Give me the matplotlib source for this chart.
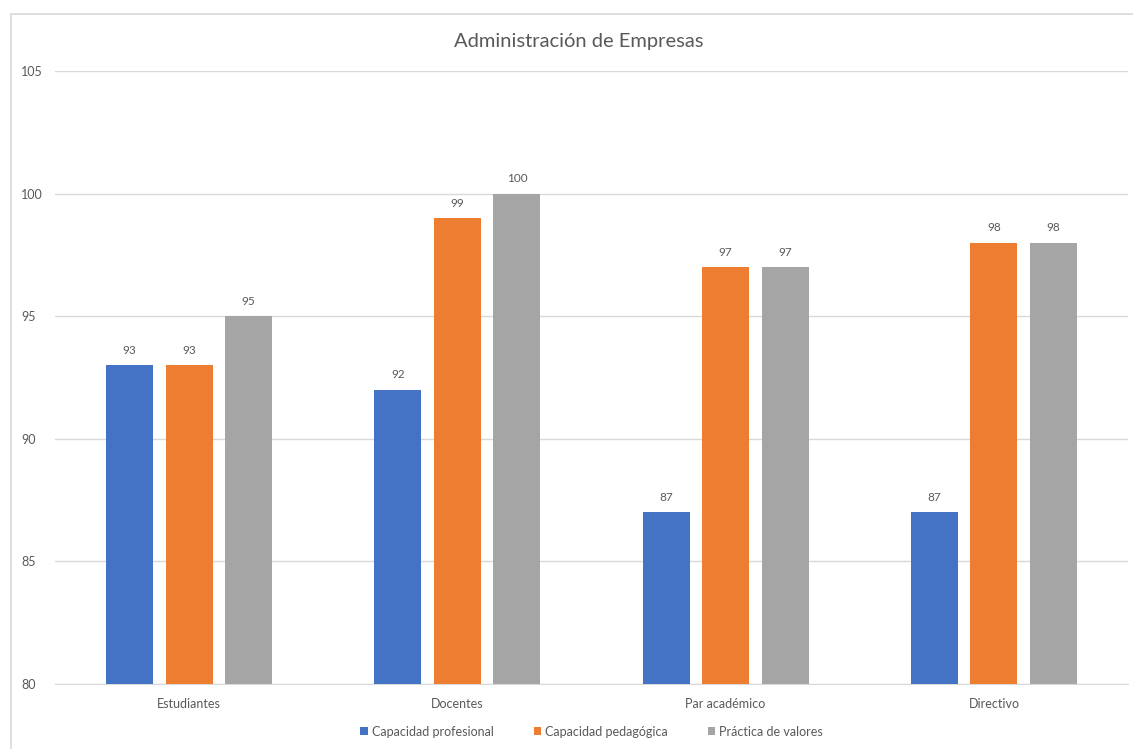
import numpy as np
import matplotlib
matplotlib.use("Agg")
import matplotlib.pyplot as plt
from matplotlib.patches import Rectangle

plt.rcParams['font.family'] = ['Lato', 'DejaVu Sans']

categories = ['Estudiantes', 'Docentes', 'Par académico', 'Directivo']
series_names = ['Capacidad profesional', 'Capacidad pedagógica', 'Práctica de valores']
profesional = [93, 92, 87, 87]
pedagogica = [93, 99, 97, 98]
valores = [95, 100, 97, 98]
colors = ['#4472C4', '#ED7D31', '#A5A5A5']

text_color = '#595959'
grid_color = '#D9D9D9'

fig = plt.figure(figsize=(11.33, 7.49), dpi=100)
ax = fig.add_axes([0.0485, 0.0868, 0.9471, 0.8184])

# outer chart frame
fig.patches.append(Rectangle((11 / 1133, -0.05), 1.2, 1 - 14 / 749 + 0.05,
                             transform=fig.transFigure, fill=False,
                             edgecolor=grid_color, linewidth=1.2))

x = np.arange(len(categories))
width = 0.175
offset = 0.222
for i, (vals, name) in enumerate(zip([profesional, pedagogica, valores], series_names)):
    bars = ax.bar(x + (i - 1) * offset, vals, width, color=colors[i], label=name, zorder=3)
    for b, v in zip(bars, vals):
        ax.text(b.get_x() + b.get_width() / 2, v + 0.38, str(v), ha='center', va='bottom',
                fontsize=8.5, color=text_color)

ax.set_xlim(-0.5, len(categories) - 0.5)
ax.set_ylim(80, 105)
ax.set_yticks(range(80, 106, 5))
ax.set_xticks(x)
ax.set_xticklabels(categories)
ax.tick_params(axis='both', length=0, labelsize=9, colors=text_color)
ax.tick_params(axis='x', pad=10)
ax.grid(axis='y', color=grid_color, linewidth=1, zorder=0)
for s in ['top', 'right', 'left']:
    ax.spines[s].set_visible(False)
ax.spines['bottom'].set_color(grid_color)

for lbl in ax.get_yticklabels():
    lbl.set_horizontalalignment('left')
ax.tick_params(axis='y', pad=24.5)

fig.text(0.511, 0.944, 'Administración de Empresas', ha='center', va='center',
         fontsize=14.5, color=text_color)

ax.legend(loc='center', bbox_to_anchor=(0.5, -0.078), ncol=3, frameon=False,
          fontsize=9, labelcolor=text_color, handlelength=0.6, handleheight=0.6,
          handletextpad=0.3, columnspacing=3.2)

fig.savefig('out.png', dpi=100)
